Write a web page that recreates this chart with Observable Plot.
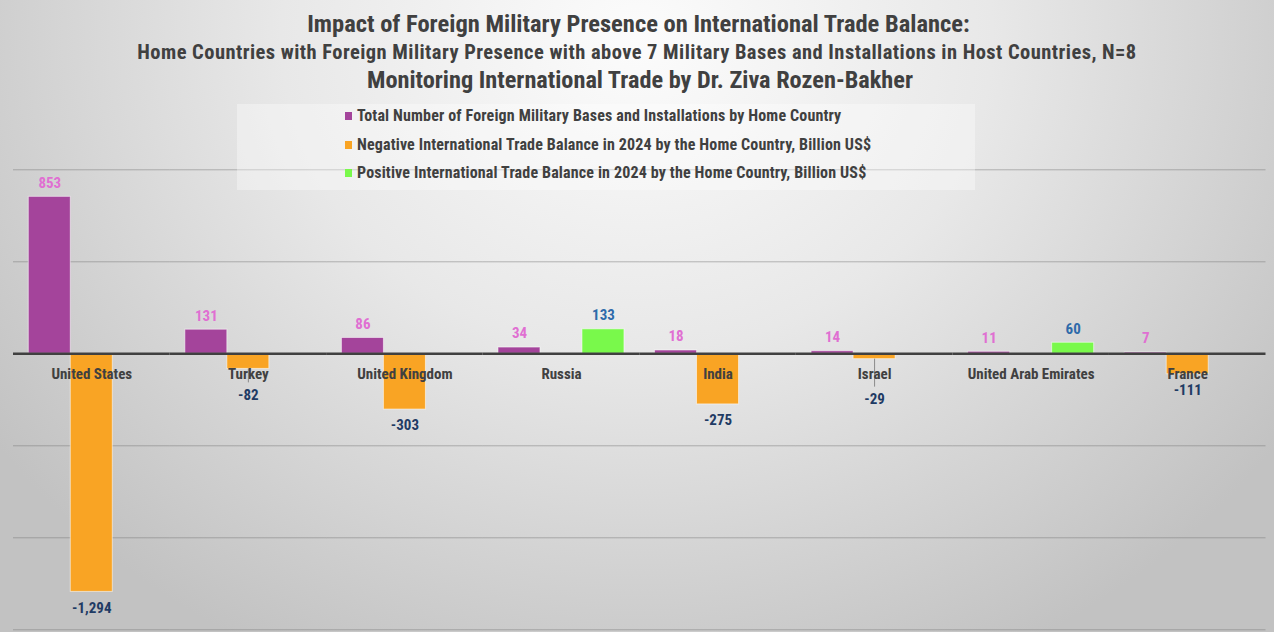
<!DOCTYPE html>
<html>
<head>
<meta charset="utf-8">
<script src="https://cdn.jsdelivr.net/npm/d3@7"></script>
<script src="https://cdn.jsdelivr.net/npm/@observablehq/plot@0.6"></script>
<style>
  html, body { margin: 0; padding: 0; }
  body { width: 1274px; height: 632px; overflow: hidden; }
  #wrap {
    position: relative; width: 1274px; height: 632px;
    background: radial-gradient(ellipse 62% 110% at 50% 6%, #fcfcfc 0%, #e8e8e8 45%, #c2c2c2 100%);
    font-family: "Roboto Condensed", "DejaVu Sans Condensed", sans-serif;
    font-weight: bold; color: #404040;
  }
  #titles { position: relative; height: 100px; text-align: center; }
  #titles div { position: absolute; left: 0; right: 0; white-space: nowrap; line-height: 1; }
  #t1 { top: 12px; font-size: 24.5px; left: 3px !important; }
  #t2 { top: 41.5px; font-size: 20.5px; letter-spacing: 0.45px; }
  #t3 { top: 67.5px; font-size: 24.3px; left: 6px !important; }
  #legend {
    position: absolute; left: 237px; top: 104px; width: 738px; height: 86px;
    background: rgba(255,255,255,0.35);
  }
  .li { position: absolute; left: 108px; font-size: 16px; letter-spacing: 0.15px; line-height: 1; white-space: nowrap; display: flex; align-items: center; }
  .sw { width: 7px; height: 8px; margin-right: 5px; }
  #chart { position: absolute; left: 0; top: 100px; }
  #chart svg { background: transparent !important; overflow: visible; }
</style>
</head>
<body>
<div id="wrap">
  <div id="titles">
    <div id="t1">Impact of Foreign Military Presence on International Trade Balance:</div>
    <div id="t2">Home Countries with Foreign Military Presence with above 7 Military Bases and Installations in Host Countries, N=8</div>
    <div id="t3">Monitoring International Trade by Dr. Ziva Rozen-Bakher</div>
  </div>
  <div id="chart"></div>
  <div id="legend"></div>
</div>
<script>
// ---- data ----
const countries = ["United States", "Turkey", "United Kingdom", "Russia", "India", "Israel", "United Arab Emirates", "France"];
const bases = [853, 131, 86, 34, 18, 14, 11, 7];
const tradeBalance = [-1294, -82, -303, 133, -275, -29, 60, -111];
const seriesNames = [
  "Total Number of Foreign Military Bases and Installations by Home Country",
  "Negative International Trade Balance in 2024 by the Home Country, Billion US$",
  "Positive International Trade Balance in 2024 by the Home Country, Billion US$"
];
const gridValues = [1000, 500, -500, -1000, -1500];

// ---- styles ----
const seriesColors = ["#a4449b", "#f9a424", "#79f94b"];
const labelColors = ["#e06fd2", "#1f3b64", "#2e6aaa"];
const labelDyNeg = {"Turkey": 26, "Israel": 40};
const leaderLen = {"Turkey": 14, "Israel": 28};

const rows = [];
countries.forEach((c, i) => {
  rows.push({country: c, series: seriesNames[0], value: bases[i]});
  const t = tradeBalance[i];
  rows.push({country: c, series: t < 0 ? seriesNames[1] : seriesNames[2], value: t});
});
const fmt = d3.formatLocale({decimal: ".", thousands: ",", grouping: [3], currency: ["$", ""], minus: "-"}).format(",");
const pos = rows.filter(d => d.value >= 0);
const neg = rows.filter(d => d.value < 0);
const leaders = neg.filter(d => leaderLen[d.country]);
const font = `"Roboto Condensed", "DejaVu Sans Condensed", sans-serif`;

const colorOf = s => seriesColors[seriesNames.indexOf(s)];
const lcolorOf = s => labelColors[seriesNames.indexOf(s)];

const marks = [
  Plot.ruleY(gridValues, {stroke: "#7a7a7a", strokeOpacity: 0.5, strokeWidth: 1}),
  Plot.barY(rows, {fx: "country", x: "series", y: "value", fill: d => colorOf(d.series), stroke: "#ffffff", strokeOpacity: 0.55, strokeWidth: 1}),
  Plot.ruleY([0], {stroke: "#404040", strokeWidth: 2.5}),
  ...leaders.map(d => Plot.ruleX([d], {fx: "country", x: "series", y1: "value", y2: "value", insetBottom: -leaderLen[d.country], stroke: "#8a8a8a", strokeWidth: 1})),
  Plot.text(countries, {fx: d => d, x: () => seriesNames[1], y: () => 0, dy: 20, text: d => d, fill: "#404040", fontSize: 15, fontWeight: "bold", fontFamily: font}),
  Plot.text(pos, {fx: "country", x: "series", y: "value", dy: -14, text: d => fmt(d.value), fill: d => lcolorOf(d.series), fontSize: 15, fontWeight: "bold", fontFamily: font}),
  ...neg.map(d => Plot.text([d], {fx: "country", x: "series", y: "value", dy: labelDyNeg[d.country] ?? 16, text: d => fmt(d.value), fill: d => lcolorOf(d.series), fontSize: 15, fontWeight: "bold", fontFamily: font}))
];

const chart = Plot.plot({
  width: 1274,
  height: 532,
  marginTop: 69.3,
  marginBottom: 2.7,
  marginLeft: 13,
  marginRight: 8.5,
  style: {background: "transparent", fontFamily: font},
  fx: {domain: countries, padding: 0, axis: null, round: false},
  x: {domain: seriesNames, paddingInner: 0, paddingOuter: 0.364, axis: null, round: false},
  y: {domain: [-1500, 1000], axis: null},
  marks
});
document.getElementById("chart").appendChild(chart);

// legend
const legend = document.getElementById("legend");
seriesNames.forEach((s, i) => {
  const row = document.createElement("div");
  row.className = "li";
  row.style.top = (4 + i * 28.7) + "px";
  const sw = document.createElement("span");
  sw.className = "sw";
  sw.style.background = seriesColors[i];
  const tx = document.createElement("span");
  tx.textContent = s;
  row.appendChild(sw); row.appendChild(tx);
  legend.appendChild(row);
});
</script>
</body>
</html>
